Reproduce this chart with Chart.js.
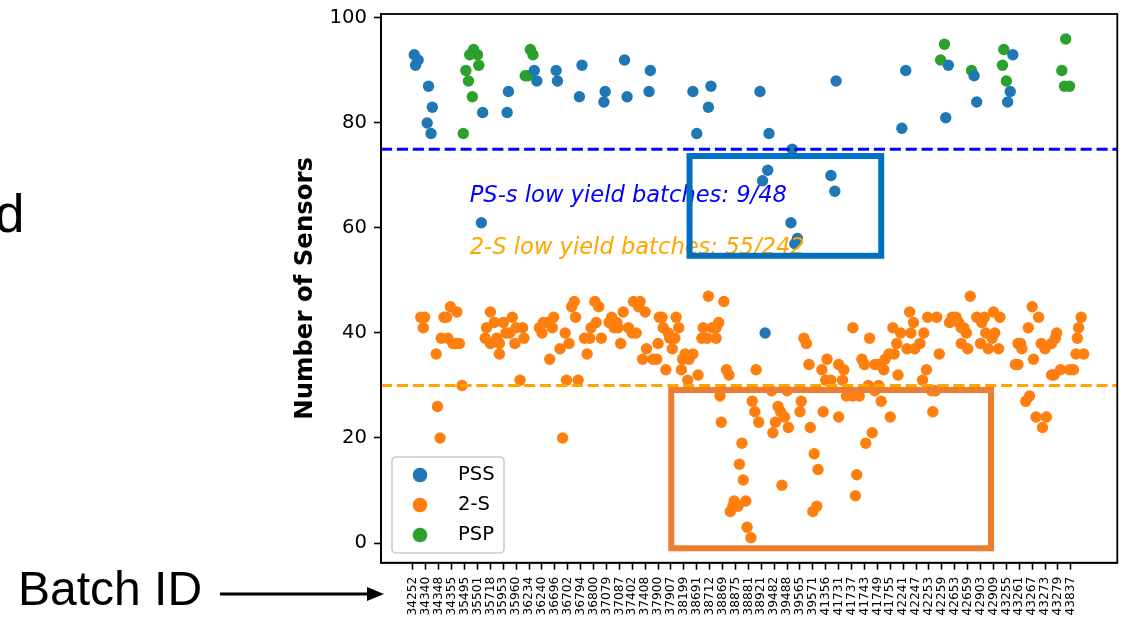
<!DOCTYPE html>
<html><head><meta charset="utf-8">
<script src="https://cdn.jsdelivr.net/npm/chart.js@4.4.1/dist/chart.umd.min.js"></script>
<style>
html,body{margin:0;padding:0;background:#fff;width:1123px;height:622px;overflow:hidden;}
#wrap{position:relative;width:1123px;height:622px;}
#c{position:absolute;left:0;top:0;}
.side{position:absolute;font-family:"Liberation Sans",Arial,sans-serif;color:#000;line-height:1;white-space:nowrap;}
svg{position:absolute;left:0;top:0;}
</style></head><body>
<div id="wrap">
<canvas id="c" width="1123" height="622"></canvas>
<div class="side" style="left:-5px;top:187px;font-size:53px;">d</div>
<div class="side" style="left:18px;top:565px;font-size:48px;">Batch ID</div>
<svg width="1123" height="622"><line x1="220" y1="594" x2="370" y2="594" stroke="#000" stroke-width="3"/><polygon points="367,587 384,594 367,601" fill="#000"/></svg>
</div>
<script>
// ---------- data ----------
const batchIds = ['34252','34340','34348','34355','35495','35501','35718','35953','35960','36234',
  '36240','36696','36702','36794','36800','37079','37087','37402','37408','37900',
  '37907','38199','38691','38712','38869','38875','38881','38921','39482','39488',
  '39565','39571','41356','41731','41737','41743','41749','41755','42241','42247',
  '42253','42259','42653','42659','42903','42909','43255','43261','43267','43273',
  '43279','43837'];
const yTicks = [0,20,40,60,80,100];

// PSS (x = batch position along axis, y = number of sensors)
const pssX = [0.1,0.4,0.2,1.2,1.5,1.1,1.4,5.4,7.4,7.3,
  9.4,9.6,11.1,11.2,13.1,12.9,14.9,14.8,16.4,16.6,
  18.4,18.3,21.7,22.0,23.1,22.9,26.9,27.6,29.4,32.8,
  38.2,37.9,41.5,41.3,43.5,43.7,46.5,46.3,46.1,27.5,
  27.1,32.4,32.7,5.3,29.3,29.8,29.6,27.3];
const pssY = [93,92,91,87,83,80,78,82,86,82,
  90,88,90,88,91,85,86,84,92,85,
  90,86,86,78,87,83,86,78,75,88,
  90,79,91,81,89,84,93,86,84,71,
  69,70,67,61,61,58,57,40];

// 2-S
const twoSX = [0.6,0.9,0.8,1.8,2.2,2.4,2.6,2.9,3.4,2.7,
  3.1,3.3,3.6,3.8,1.9,2.1,6.0,5.7,6.3,5.6,
  6.0,6.5,6.7,7.0,6.7,7.2,7.5,7.7,7.9,8.0,
  8.5,8.6,8.3,9.8,10.0,10.1,10.4,10.8,10.9,10.6,
  11.4,11.8,12.1,11.9,11.6,12.3,12.5,12.6,12.8,13.3,
  13.7,13.5,13.8,14.1,14.4,14.2,14.6,15.2,15.4,15.8,
  15.6,15.9,16.1,16.3,16.7,17.0,17.3,17.1,17.6,17.5,
  18.0,17.8,18.1,18.6,18.9,19.0,19.1,19.3,19.4,19.6,
  19.8,19.9,20.1,20.3,20.1,20.4,20.6,20.8,20.9,21.1,
  21.4,21.7,21.3,22.1,22.4,22.8,22.5,22.9,23.2,23.5,
  23.7,23.5,24.1,24.3,24.5,23.8,23.9,25.5,25.3,25.6,
  24.9,24.8,24.6,25.2,25.8,25.9,26.2,26.3,26.5,26.8,
  27.8,28.3,28.5,28.8,28.1,27.9,29.0,29.1,28.6,30.1,
  30.0,30.8,31.1,31.4,31.3,31.0,31.8,26.6,31.7,32.0,
  32.4,33.0,30.3,30.5,30.7,32.1,33.0,33.4,33.3,33.6,
  34.1,34.6,34.1,34.8,35.0,35.3,35.4,35.8,36.1,36.5,
  35.8,36.1,36.3,36.6,36.9,37.3,37.0,37.2,37.5,37.6,
  37.8,38.3,38.9,38.5,38.8,38.6,39.3,39.5,39.6,39.8,
  39.9,40.6,40.2,40.5,40.3,40.8,41.6,41.8,42.1,42.3,
  42.5,42.7,42.9,42.5,43.0,43.2,43.7,44.3,44.1,44.0,
  44.6,44.4,45.1,45.0,45.5,44.9,45.4,46.7,46.9,46.9,
  47.2,47.1,47.7,48.0,48.5,48.1,48.7,49.0,49.5,49.7,
  50.2,49.5,49.8,49.9,50.9,51.2,51.4,52.0,51.5,51.6,
  51.8,47.5,47.8,48.3,49.1,48.8,35.1,35.6,34.4,34.3];
const twoSY = [43,43,41,36,39,43,43,45,44,39,
  38,38,38,30,26,20,44,41,42,39,
  38,39,38,42,36,40,40,43,38,41,
  41,39,31,41,40,42,42,41,43,35,
  37,40,38,31,20,45,46,43,31,39,
  39,36,41,46,45,42,39,42,43,42,
  41,41,38,44,41,40,40,46,46,45,
  44,35,37,35,35,38,43,43,41,33,
  40,39,39,39,37,43,41,33,35,36,
  35,36,31,32,39,39,41,47,41,41,
  42,39,46,33,32,28,23,19,15,12,
  8,7,6,7,8,3,1,27,25,23,
  29,26,25,24,23,21,29,22,11,27,
  25,22,17,14,7,6,25,33,33,31,
  31,24,39,38,34,35,34,33,31,28,
  28,28,41,35,34,30,39,34,34,33,
  29,30,27,35,36,36,24,41,38,32,
  40,37,37,44,42,40,38,31,40,33,
  43,43,29,29,25,36,42,43,43,42,
  41,41,40,38,37,47,43,43,42,38,
  37,40,40,44,43,39,37,34,34,38,
  37,38,41,45,43,35,38,37,32,32,
  33,38,39,40,33,33,36,36,39,41,
  43,27,28,24,24,22,19,21,13,9];

// PSP
const pspX = [4.7,4.4,5.0,5.1,4.1,4.3,4.6,3.9,9.1,9.3,
  8.7,8.9,41.2,40.9,43.3,45.8,45.7,46.0,50.6,50.3,
  50.5,50.9];
const pspY = [94,93,93,91,90,88,85,78,94,93,
  89,89,95,92,90,94,91,88,96,90,
  87,87];

// thresholds & annotations (data units)
const thresholdValues = [75, 30];
const noteTexts = ['PS-s low yield batches: 9/48', '2-S low yield batches: 55/242'];
const noteX = [4.4, 4.4];
const noteY = [65, 55];
// highlight boxes: [xMin, xMax, yMax, yMin]
const psBox = [21.44, 36.3, 73.7, 54.7];
const twoSBox = [20.02, 44.81, 29.14, -1.0];

// ---------- chart ----------
const toPts = (xs, ys) => xs.map((x, i) => ({x: x, y: ys[i]}));
const C_PSS = '#1f77b4', C_2S = '#ff7f0e', C_PSP = '#2ca02c';
Chart.defaults.color = '#000';
Chart.defaults.font.family = '"DejaVu Sans"';

const overlay = {
  id: 'overlay',
  afterDatasetsDraw(chart) {
    const {ctx, chartArea: a, scales: {x, y}} = chart;
    ctx.save();
    // dashed thresholds
    const tcol = ['#0000ff', '#ffa500'];
    ctx.lineWidth = 3;
    ctx.setLineDash([11.1, 4.8]);
    thresholdValues.forEach((v, i) => {
      const py = y.getPixelForValue(v);
      ctx.strokeStyle = tcol[i];
      ctx.beginPath(); ctx.moveTo(a.left, py); ctx.lineTo(a.right, py); ctx.stroke();
    });
    ctx.setLineDash([]);
    // annotation texts
    ctx.font = 'italic 22.6px "DejaVu Sans"';
    ctx.textAlign = 'left'; ctx.textBaseline = 'alphabetic';
    noteTexts.forEach((t, i) => {
      ctx.fillStyle = tcol[i];
      ctx.fillText(t, x.getPixelForValue(noteX[i]), y.getPixelForValue(noteY[i]));
    });
    // frame
    ctx.strokeStyle = '#000'; ctx.lineWidth = 1.8;
    ctx.strokeRect(a.left, a.top, a.right - a.left, a.bottom - a.top);
    // legend (lower left)
    const lx = a.left + 11, lb = a.bottom - 9.7, lw = 112, lh = 96, ly = lb - lh;
    ctx.beginPath();
    ctx.roundRect(lx, ly, lw, lh, 4);
    ctx.fillStyle = 'rgba(255,255,255,0.8)'; ctx.fill();
    ctx.strokeStyle = '#cccccc'; ctx.lineWidth = 1.6; ctx.stroke();
    ctx.font = '19.6px "DejaVu Sans"';
    chart.data.datasets.forEach((ds, i) => {
      const cy = ly + 18 + i * 30;
      ctx.fillStyle = ds.backgroundColor;
      ctx.beginPath(); ctx.arc(lx + 28, cy, 7.3, 0, Math.PI * 2); ctx.fill();
      ctx.fillStyle = '#000';
      ctx.fillText(ds.label, lx + 66, cy + 5);
    });
    ctx.restore();
  },
  afterDraw(chart) {
    const {ctx, scales: {x, y}} = chart;
    ctx.save();
    ctx.lineWidth = 6;
    [[psBox, '#0070c0'], [twoSBox, '#ed7d31']].forEach(([b, col]) => {
      const x0 = x.getPixelForValue(b[0]), x1 = x.getPixelForValue(b[1]);
      const y0 = y.getPixelForValue(b[2]), y1 = y.getPixelForValue(b[3]);
      ctx.strokeStyle = col;
      ctx.strokeRect(x0, y0, x1 - x0, y1 - y0);
    });
    ctx.restore();
  }
};

new Chart(document.getElementById('c'), {
  type: 'scatter',
  data: {
    datasets: [
      {label: 'PSS', data: toPts(pssX, pssY), backgroundColor: C_PSS, borderColor: C_PSS, pointRadius: 5.7, borderWidth: 0},
      {label: '2-S', data: toPts(twoSX, twoSY), backgroundColor: C_2S, borderColor: C_2S, pointRadius: 5.7, borderWidth: 0},
      {label: 'PSP', data: toPts(pspX, pspY), backgroundColor: C_PSP, borderColor: C_PSP, pointRadius: 5.7, borderWidth: 0}
    ]
  },
  options: {
    responsive: false,
    devicePixelRatio: 1,
    animation: false,
    events: [],
    layout: {padding: {top: 14, right: 5, bottom: 0, left: 0}},
    plugins: {legend: {display: false}, tooltip: {enabled: false}},
    scales: {
      x: {
        type: 'linear',
        min: -2.48, max: 54.6,
        afterBuildTicks: (s) => { s.ticks = batchIds.map((_, i) => ({value: i})); },
        afterFit: (s) => { s.height = 59.3; s.paddingLeft = 0; s.paddingRight = 0; },
        ticks: {
          autoSkip: false, minRotation: 90, maxRotation: 90, padding: 7,
          font: {size: 12.2}, color: '#000',
          callback: (v) => batchIds[v]
        },
        grid: {drawOnChartArea: false, drawTicks: true, tickLength: 7, tickWidth: 1.6, tickColor: '#000'},
        border: {display: true, color: '#000', width: 1.8}
      },
      y: {
        type: 'linear',
        min: -3.75, max: 100.75,
        afterBuildTicks: (s) => { s.ticks = yTicks.map(v => ({value: v})); },
        afterFit: (s) => { s.width = 381; s.paddingTop = 0; s.paddingBottom = 0; },
        ticks: {padding: 7, font: {size: 19.6}, color: '#000'},
        grid: {drawOnChartArea: false, drawTicks: true, tickLength: 7, tickWidth: 1.6, tickColor: '#000'},
        border: {display: true, color: '#000', width: 1.8},
        title: {
          display: true, text: 'Number of Sensors', color: '#000',
          font: {size: 24.4, weight: 'bold'},
          padding: {top: 291.4, bottom: 0}
        }
      }
    }
  },
  plugins: [overlay]
});
</script>
</body></html>
